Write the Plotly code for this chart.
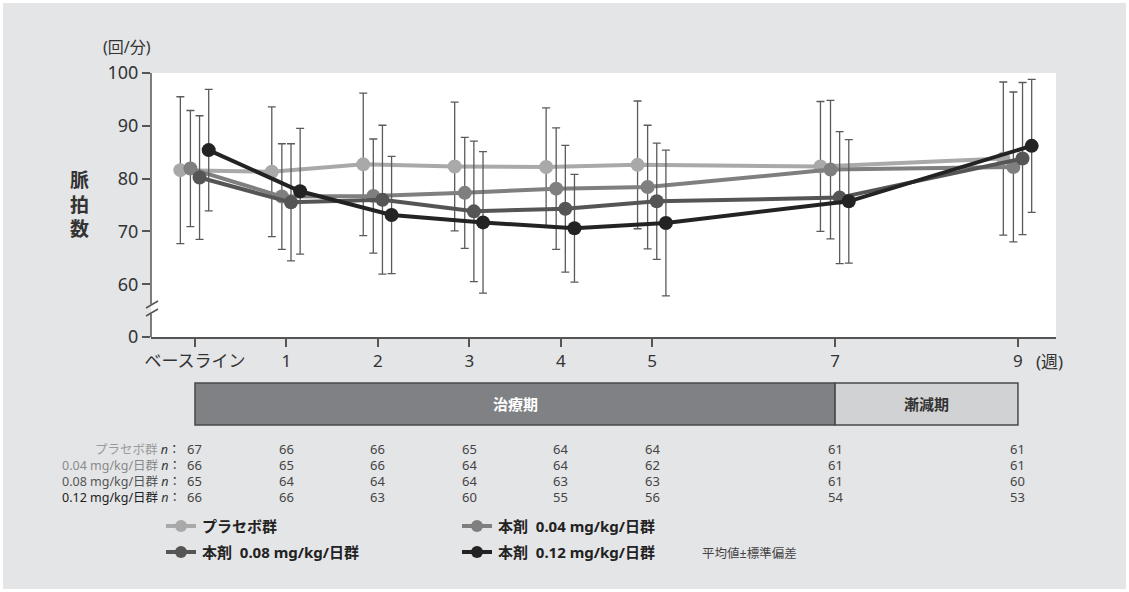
import plotly.graph_objects as go

# ---------------- data ----------------
weeks = [0, 1, 2, 3, 4, 5, 7, 9]
week_labels = ["ベースライン", "1", "2", "3", "4", "5", "7", "9"]

series_names = ["プラセボ群", "本剤  0.04 mg/kg/日群", "本剤  0.08 mg/kg/日群", "本剤  0.12 mg/kg/日群"]
placebo_mean = [81.6, 81.3, 82.7, 82.3, 82.2, 82.6, 82.3, 83.8]
placebo_sd = [13.9, 12.3, 13.5, 12.2, 11.2, 12.1, 12.3, 14.5]
d004_mean = [81.9, 76.6, 76.7, 77.3, 78.1, 78.4, 81.7, 82.2]
d004_sd = [11.0, 10.0, 10.8, 10.5, 11.5, 11.7, 13.1, 14.2]
d008_mean = [80.2, 75.5, 76.0, 73.8, 74.3, 75.7, 76.4, 83.8]
d008_sd = [11.7, 11.1, 14.1, 13.3, 12.0, 11.0, 12.5, 14.4]
d012_mean = [85.4, 77.6, 73.1, 71.7, 70.6, 71.6, 75.7, 86.2]
d012_sd = [11.5, 11.9, 11.1, 13.4, 10.2, 13.8, 11.7, 12.6]

n_labels = ["プラセボ群", "0.04 mg/kg/日群", "0.08 mg/kg/日群", "0.12 mg/kg/日群"]
n_placebo = [67, 66, 66, 65, 64, 64, 61, 61]
n_004 = [66, 65, 66, 64, 64, 62, 61, 61]
n_008 = [65, 64, 64, 64, 63, 63, 61, 60]
n_012 = [66, 66, 63, 60, 55, 56, 54, 53]

y_ticks = [0, 60, 70, 80, 90, 100]
periods = [("治療期", 0, 7), ("漸減期", 7, 9)]

# ---------------- style ----------------
W, H = 1129, 592
L, R, T, B = 151, 1056, 73, 337
FONT = "Noto Sans, Noto Sans CJK JP, sans-serif"
BG = "#e4e5e7"
colors = ["#a9a9a9", "#7f7f7f", "#555555", "#232323"]
label_colors = ["#9a9a9a", "#8a8a8a", "#555555", "#222222"]
offsets = [-0.16, -0.05, 0.05, 0.15]
XMIN, XMAX = -0.481, 9.416
BREAK_SHIFT = 50  # value 0 is drawn at 50 (axis break)

means = [placebo_mean, d004_mean, d008_mean, d012_mean]
sds = [placebo_sd, d004_sd, d008_sd, d012_sd]
ns = [n_placebo, n_004, n_008, n_012]


def px(x):
    return (x - L) / (R - L)


def py(y):
    return (B - y) / (B - T)


def x2paper(w):
    return (w - XMIN) / (XMAX - XMIN)


def ann(x, y, text, size, color, xanchor="center", xref="paper", yanchor="middle", height=None):
    d = dict(xref=xref, yref="paper", x=x, y=y, text=text, showarrow=False,
             xanchor=xanchor, yanchor=yanchor,
             font=dict(family=FONT, size=size, color=color))
    if height:
        d["height"] = height
    return d


fig = go.Figure()
for i in range(4):
    fig.add_trace(go.Scatter(
        x=[w + offsets[i] for w in weeks],
        y=means[i],
        mode="lines+markers",
        line=dict(color=colors[i], width=4),
        marker=dict(color=colors[i], size=14),
        error_y=dict(type="data", array=sds[i], color="#5a5a5a", thickness=1.3, width=4),
        name=series_names[i],
        showlegend=False,
    ))

shapes = []
annotations = []

# white outer border
shapes.append(dict(type="rect", xref="paper", yref="paper", x0=px(0), x1=px(W), y0=py(H), y1=py(0),
                   line=dict(color="white", width=6), fillcolor="rgba(0,0,0,0)", layer="above"))

# y axis line with break
axc = "#555555"
shapes.append(dict(type="line", xref="paper", yref="y", x0=0, x1=0, y0=100, y1=56.2,
                   line=dict(color=axc, width=1.5)))
shapes.append(dict(type="line", xref="paper", yref="y", x0=0, x1=0, y0=54.4, y1=50,
                   line=dict(color=axc, width=1.5)))
for yy in [304.5, 312.5]:
    shapes.append(dict(type="line", xref="paper", yref="paper", x0=px(146), x1=px(158),
                       y0=py(yy + 3.5), y1=py(yy - 3.5), line=dict(color=axc, width=1.5)))

# period bars
pfill = ["#808184", "#d1d2d4"]
pfont = ["white", "#333333"]
for k, (name, a, b) in enumerate(periods):
    shapes.append(dict(type="rect", xref="paper", yref="paper", x0=x2paper(a), x1=x2paper(b),
                       y0=py(425), y1=py(383), fillcolor=pfill[k], line=dict(color="#4a4a4a", width=1.5)))
    annotations.append(ann((a + b) / 2, py(404), "<b>%s</b>" % name, 15, pfont[k], xref="x"))

# n table
row_y = [449, 465, 481, 497]
for r in range(4):
    annotations.append(ann(px(183), py(row_y[r]),
                           "%s <span style='color:#333'><i>n</i>：</span>" % n_labels[r],
                           12.5, label_colors[r], xanchor="right", height=16))
    for j, w in enumerate(weeks):
        annotations.append(ann(w, py(row_y[r]), str(ns[r][j]), 13, "#444444", xref="x", height=16))

# custom legend
leg_pos = [(166, 526), (462, 526), (166, 552), (462, 552)]
for i, (lx, ly) in enumerate(leg_pos):
    shapes.append(dict(type="line", xref="paper", yref="paper", x0=px(lx), x1=px(lx + 30),
                       y0=py(ly), y1=py(ly), line=dict(color=colors[i], width=4)))
    shapes.append(dict(type="circle", xref="paper", yref="paper", x0=px(lx + 9), x1=px(lx + 21),
                       y0=py(ly + 6), y1=py(ly - 6), fillcolor=colors[i], line=dict(width=0)))
    annotations.append(ann(px(lx + 34), py(ly), "<b>%s</b>" % series_names[i], 15, "#222222",
                           xanchor="left"))
annotations.append(ann(px(700), py(553), "平均値±標準偏差", 12.5, "#444444", xanchor="left"))

# axis titles / units
annotations.append(ann(px(127), py(47), "(回/分)", 16, "#333333"))
annotations.append(ann(px(79), py(204), "<b>脈<br>拍<br>数</b>", 19, "#333333"))
annotations.append(ann(px(1034), py(361), "(週)", 17, "#333333", xanchor="left"))

fig.update_layout(
    width=W, height=H,
    margin=dict(l=L, r=W - R, t=T, b=H - B, pad=0),
    paper_bgcolor=BG, plot_bgcolor="white",
    showlegend=False,
    font=dict(family=FONT, color="#333333"),
    shapes=shapes, annotations=annotations,
    xaxis=dict(range=[XMIN, XMAX], tickvals=weeks, ticktext=week_labels, showgrid=False, zeroline=False,
               showline=True, linecolor=axc, linewidth=1.5, ticks="outside", ticklen=8, tickwidth=1.5,
               tickcolor=axc, tickfont=dict(family=FONT, size=17, color="#333333")),
    yaxis=dict(range=[50, 100], tickvals=[v if v >= 60 else BREAK_SHIFT for v in y_ticks],
               ticktext=[str(v) for v in y_ticks], showgrid=False, zeroline=False, showline=False,
               ticks="outside", ticklen=8, tickwidth=1.5, tickcolor=axc,
               tickfont=dict(family=FONT, size=18, color="#333333")),
)

fig.write_html("out.html")
